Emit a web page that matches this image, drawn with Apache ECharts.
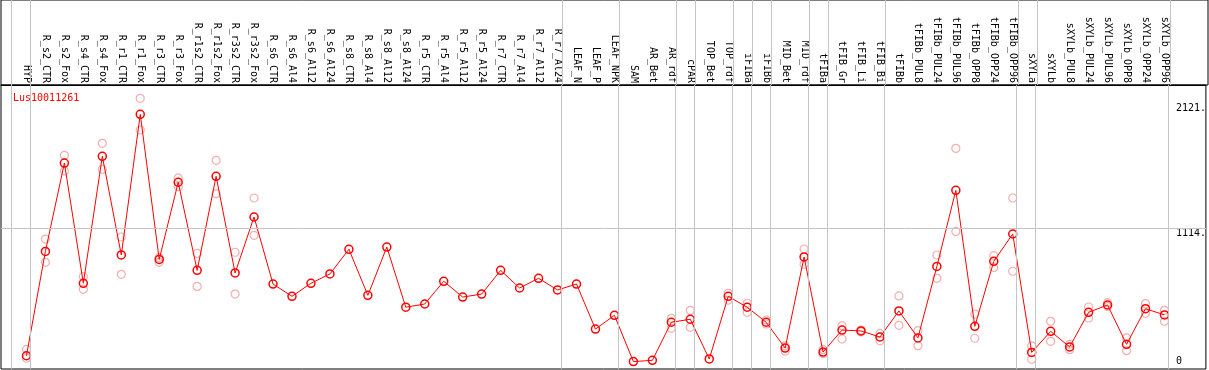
<!DOCTYPE html>
<html>
<head>
<meta charset="utf-8">
<script src="https://cdn.jsdelivr.net/npm/echarts@6/dist/echarts.min.js"></script>
<style>
  html, body { margin: 0; padding: 0; background: #fff; }
  #chart { width: 1209px; height: 370px; }
</style>
</head>
<body>
<div id="chart"></div>
<script>
// sample names along the top
const categories = [
  'HYP', 'R_s2_CTR', 'R_s2_Fox', 'R_s4_CTR', 'R_s4_Fox', 'R_r1_CTR', 'R_r1_Fox',
  'R_r3_CTR', 'R_r3_Fox', 'R_r1s2_CTR', 'R_r1s2_Fox', 'R_r3s2_CTR', 'R_r3s2_Fox',
  'R_s6_CTR', 'R_s6_Al4', 'R_s6_Al12', 'R_s6_Al24', 'R_s8_CTR', 'R_s8_Al4',
  'R_s8_Al12', 'R_s8_Al24', 'R_r5_CTR', 'R_r5_Al4', 'R_r5_Al12', 'R_r5_Al24',
  'R_r7_CTR', 'R_r7_Al4', 'R_r7_Al12', 'R_r7_Al24', 'LEAF_N', 'LEAF_P', 'LEAF_NPK',
  'SAM', 'AR_Bet', 'AR_rdf', 'cPAR', 'TOP_Bet', 'TOP_rdf', 'iFIBa', 'iFIBb',
  'MID_Bet', 'MID_rdf', 'tFIBa', 'tFIB_Gr', 'tFIB_Li', 'tFIB_Bi', 'tFIBb',
  'tFIBb_PUL8', 'tFIBb_PUL24', 'tFIBb_PUL96', 'tFIBb_OPP8', 'tFIBb_OPP24', 'tFIBb_OPP96',
  'sXYLa', 'sXYLb', 'sXYLb_PUL8', 'sXYLb_PUL24', 'sXYLb_PUL96', 'sXYLb_OPP8',
  'sXYLb_OPP24', 'sXYLb_OPP96'
];

// mean expression
const means = [
  85, 926, 1638, 669, 1692, 897, 2030, 861, 1483, 773, 1531, 752, 1203,
  663, 564, 669, 744, 943, 572, 961, 476, 502, 685, 558, 582, 773, 631, 709, 615,
  663, 300, 411, 38, 48, 355, 379, 59, 564, 476, 355, 147, 881, 115, 292, 285, 236,
  446, 229, 805, 1418, 322, 846, 1066, 112, 282, 156, 435, 494, 177, 464, 414
];

// replicates (null where hidden behind the mean marker)
const repHigh = [
  136, 1025, 1700, 722, 1797, 1042, 2159, 875, 1518, 910, 1660, 919, 1356,
  null, null, null, null, null, null, null, null, null, null, null, null, null, null, null, null,
  null, null, null, null, null, 387, 451, null, 588, 508, 373, 164, 945, 136, 327, 292, 265,
  567, 287, 897, 1756, 421, 891, 1356, 164, 362, 177, 478, 513, 229, 505, 451
];
const repLow = [
  65, 838, 1574, 620, 1587, 741, 1904, 838, 1447, 644, 1391, 582, 1055,
  null, null, null, null, null, null, null, null, null, null, null, null, null, null, null, null,
  null, null, null, null, null, 306, 314, null, 534, 435, 341, 123, 822, 102, 220, 277, 206,
  330, 166, 709, 1087, 226, 797, 766, 56, 201, 134, 389, 481, 126, 427, 362
];

// y axis labels and the grid line
const yTicksUpper = [1114, 2121];
const yTicksLower = [0];
const yGridLine = 1114;

// gray separators come right after these sample indices
const sepAfter = [-1, 0, 28, 31, 34, 35, 37, 38, 39, 41, 42, 45, 52, 53, 60];

const mono = 'DejaVu Sans Mono';
const xMin = -1.342, xMax = 62.184;
const chart = echarts.init(document.getElementById('chart'));

const reps = [];
repHigh.forEach((v, i) => { if (v != null) reps.push([i, v]); });
repLow.forEach((v, i) => { if (v != null) reps.push([i, v]); });

const sepLines = {
  silent: true,
  symbol: 'none',
  label: { show: false },
  lineStyle: { color: '#c4c4c4', width: 1, type: 'solid' },
  data: sepAfter.map(k => ({ xAxis: k + 0.21 }))
};

const yBase = {
  type: 'value',
  gridIndex: 0,
  position: 'right',
  min: -21.8,
  max: 2266.7,
  axisLine: { show: false },
  axisTick: { show: false },
  splitLine: { show: false }
};
const yLabel = {
  inside: true,
  margin: 30,
  align: 'left',
  formatter: v => v === 0 ? '0' : v + '.',
  color: '#000',
  fontSize: 10,
  fontFamily: mono
};

chart.setOption({
  animation: false,
  title: {
    text: 'Lus10011261',
    left: 8,
    top: 88,
    textStyle: { color: '#ff0000', fontSize: 10, fontWeight: 'normal', fontFamily: mono }
  },
  grid: [
    // plot area
    { left: 1, right: 1, top: 85, bottom: 1, show: true, borderColor: '#000', borderWidth: 1 },
    // label strip above it
    { left: 1, right: 1, top: 0, height: 85, show: true, borderColor: '#000', borderWidth: 1 }
  ],
  xAxis: [
    {
      type: 'value',
      gridIndex: 0,
      position: 'top',
      min: xMin,
      max: xMax,
      axisLine: { show: true, onZero: false, lineStyle: { color: '#000', width: 1 } },
      axisTick: { show: false },
      splitLine: { show: false },
      axisLabel: {
        customValues: categories.map((c, i) => i),
        formatter: v => categories[v] || '',
        rotate: 90,
        margin: 2,
        color: '#000',
        fontSize: 10,
        fontFamily: mono
      }
    },
    {
      type: 'value',
      gridIndex: 1,
      min: xMin,
      max: xMax,
      show: false
    }
  ],
  yAxis: [
    Object.assign({}, yBase, {
      axisLabel: Object.assign({}, yLabel, { customValues: yTicksUpper, verticalAlign: 'top' })
    }),
    Object.assign({}, yBase, {
      axisLabel: Object.assign({}, yLabel, { customValues: yTicksLower, verticalAlign: 'bottom' })
    }),
    { type: 'value', gridIndex: 1, min: 0, max: 1, show: false }
  ],
  series: [
    {
      type: 'scatter',
      data: reps,
      symbol: 'circle',
      symbolSize: 8,
      z: 2,
      itemStyle: { color: 'transparent', borderColor: '#f09a9a', borderWidth: 1.2 },
      markLine: Object.assign({}, sepLines, {
        data: sepLines.data.concat([{ yAxis: yGridLine }])
      })
    },
    {
      type: 'line',
      data: means.map((v, i) => [i, v]),
      symbol: 'circle',
      symbolSize: 8,
      z: 3,
      lineStyle: { color: '#ff0000', width: 1 },
      itemStyle: { color: 'transparent', borderColor: '#ff0000', borderWidth: 1.5 }
    },
    {
      // separators continued through the label strip
      type: 'scatter',
      xAxisIndex: 1,
      yAxisIndex: 2,
      data: [],
      markLine: sepLines
    }
  ]
});
</script>
</body>
</html>
